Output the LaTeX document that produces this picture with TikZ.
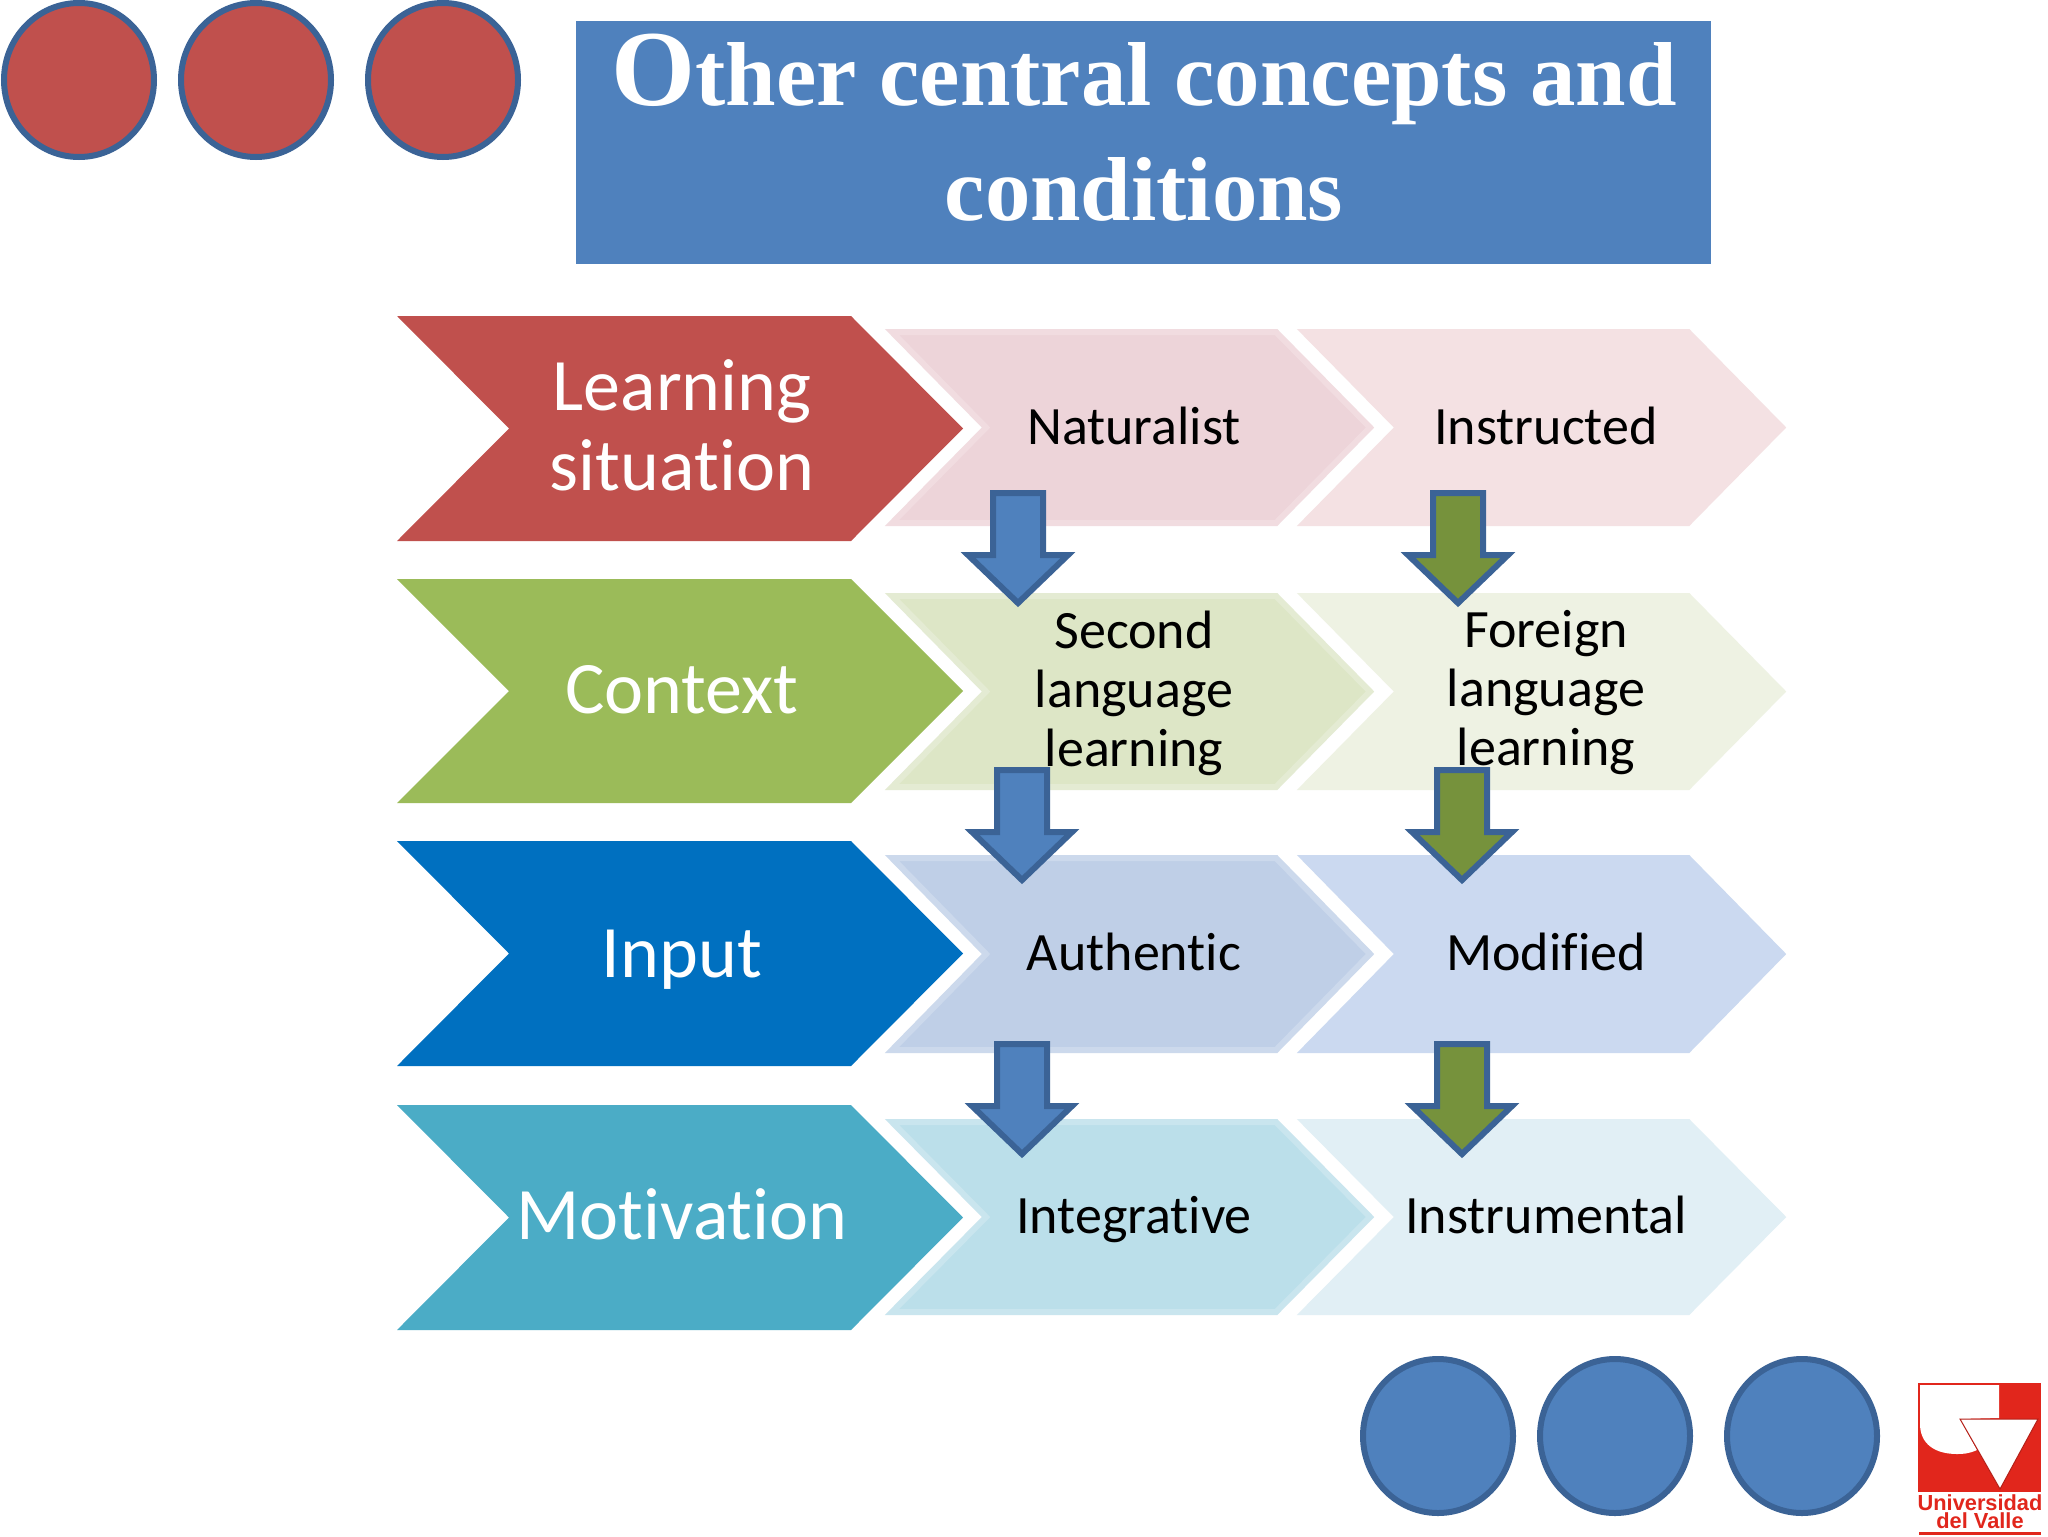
\documentclass[tikz,border=0pt]{standalone}
\usepackage{fontspec}
\usetikzlibrary{shapes.geometric}
\setmainfont{Carlito}[Ligatures=NoCommon]
\newfontfamily\titlefont{Liberation Serif}[BoldFont={Liberation Serif Bold}]
\newfontfamily\logofont{Liberation Sans}[BoldFont={Liberation Sans Bold}]
\definecolor{cred}{HTML}{C0504D}
\definecolor{cgreen}{HTML}{9BBB59}
\definecolor{cinput}{HTML}{0070C0}
\definecolor{cteal}{HTML}{4BACC6}
\definecolor{cblue}{HTML}{4F81BD}
\definecolor{cstroke}{HTML}{3B6396}
\definecolor{carrowgreen}{HTML}{76923C}
\definecolor{logored}{HTML}{E1261C}
\definecolor{lnat}{HTML}{EDD4D9}\definecolor{rnat}{HTML}{F1DCE0}
\definecolor{lins}{HTML}{F4E1E3}
\definecolor{lsec}{HTML}{DDE6C6}\definecolor{rsec}{HTML}{E4EBD3}
\definecolor{lfor}{HTML}{EEF2E3}
\definecolor{laut}{HTML}{BFCFE7}\definecolor{raut}{HTML}{CCD9EC}
\definecolor{lmod}{HTML}{CBD9F0}
\definecolor{lint}{HTML}{BBDFEA}\definecolor{rint}{HTML}{C9E5EE}
\definecolor{lstr}{HTML}{E1EFF5}
\newcommand{\mainchev}[3]{% colour, top y, bottom y
  \fill[#1] (397,#2) -- (851,#2) -- (963,{(#2+#3)/2}) -- (851,#3) -- (397,#3) -- (509,{(#2+#3)/2}) -- cycle;}
\newcommand{\lightchev}[5]{% offset x, fill, rim, top, bottom
  \path[fill=#2,draw=#3,line width=3pt,line join=miter]
    ({#1+890},{#4+3}) -- ({#1+1274},{#4+3}) -- ({#1+1368},{(#4+#5)/2}) -- ({#1+1274},{#5-3}) -- ({#1+890},{#5-3}) -- ({#1+984},{(#4+#5)/2}) -- cycle;}
\newcommand{\blockarrow}[3]{% centre x, top y, fill
  \draw[blockarrowline,fill=#3]
    ({#1-25},{#2+3}) -- ({#1+25},{#2+3}) -- ({#1+25},{#2+65}) -- ({#1+50},{#2+65}) -- (#1,{#2+113}) -- ({#1-50},{#2+65}) -- ({#1-25},{#2+65}) -- cycle;}
\tikzset{
  blockarrowline/.style={draw=cstroke,line width=3pt,line join=miter},
  disc/.style={ellipse,draw=cstroke,line width=3pt,inner sep=0pt,minimum width=75pt,minimum height=77pt},
  redisc/.style={disc,fill=cred},
  bluedisc/.style={disc,fill=cblue},
  bigtext/.style={text=white,align=center,font=\fontsize{37}{40}\selectfont},
  smalltext/.style={text=black,align=center,font=\fontsize{27}{29.5}\selectfont},
}
\begin{document}
\begin{tikzpicture}[x=0.5pt,y=-0.5pt]
\useasboundingbox (0,0) rectangle (2048,1536);
\fill[white] (0,0) rectangle (2048,1536);
% discs
\node[redisc] (r1) at (79,80) {};
\node[redisc] (r2) at (256,80) {};
\node[redisc] (r3) at (443,80) {};
\node[bluedisc] (b1) at (1438,1436) {};
\node[bluedisc] (b2) at (1615,1436) {};
\node[bluedisc] (b3) at (1802,1436) {};
% title
\fill[cblue] (576,21) rectangle (1711,264);
\node[text=white,align=center,font=\titlefont\bfseries\fontsize{45.4}{57.5}\selectfont] (title) at (1144,128)
  {{\fontsize{54}{57.5}\selectfont O}ther central concepts and\\conditions};
% main chevrons
\mainchev{cred}{316}{541}
\mainchev{cgreen}{579}{803}
\mainchev{cinput}{841}{1066}
\mainchev{cteal}{1105}{1330}
% light chevrons
\lightchev{2}{lnat}{rnat}{329}{526}
\lightchev{414}{lins}{lins}{329}{526}
\lightchev{2}{lsec}{rsec}{593}{790}
\lightchev{414}{lfor}{lfor}{593}{790}
\lightchev{2}{laut}{raut}{855}{1053}
\lightchev{414}{lmod}{lmod}{855}{1053}
\lightchev{2}{lint}{rint}{1119}{1315}
\lightchev{414}{lstr}{lstr}{1119}{1315}
% main labels
\node[bigtext] (learning) at (682,425) {Learning\\situation};
\node[bigtext,anchor=base] (context) at (682,713) {Context};
\node[bigtext,anchor=base] (input) at (682,977) {Input};
\node[bigtext,anchor=base] (motivation) at (682,1239) {Motivation};
% option labels
\node[smalltext,anchor=base] (naturalist) at (1134,444) {Naturalist};
\node[smalltext,anchor=base] (instructed) at (1546,444) {Instructed};
\node[smalltext] (second) at (1134,693) {Second\\language\\learning};
\node[smalltext] (foreign) at (1546,693) {Foreign\\language\\learning};
\node[smalltext,anchor=base] (authentic) at (1134,970) {Authentic};
\node[smalltext,anchor=base] (modified) at (1546,970) {Modified};
\node[smalltext,anchor=base] (integrative) at (1134,1233) {Integrative};
\node[smalltext,anchor=base] (instrumental) at (1546,1233) {Instrumental};
% block arrows
\blockarrow{1018}{490}{cblue}
\blockarrow{1458}{490}{carrowgreen}
\blockarrow{1022}{767}{cblue}
\blockarrow{1462}{767}{carrowgreen}
\blockarrow{1022}{1041}{cblue}
\blockarrow{1462}{1041}{carrowgreen}
% logo
\fill[logored] (1918,1383) rectangle (2041,1492);
\fill[white] (1920,1385) -- (1999,1385) -- (1999,1418) -- (1960,1419) -- (1977,1450)
  .. controls (1968,1454) and (1962,1454) .. (1957,1454)
  .. controls (1935,1454) and (1920,1444) .. (1920,1424) -- cycle;
\filldraw[fill=white,draw=logored!80!black,line width=0.5pt] (1960,1419) -- (2038,1419) -- (2000,1489) -- cycle;
\node[text=logored,align=center,inner sep=0pt,font=\logofont\bfseries\fontsize{10.9}{9}\selectfont] (logotext) at (1980,1512) {Universidad\\del Valle};
\fill[logored] (1919,1532) rectangle (2041,1535);
\end{tikzpicture}
\end{document}
